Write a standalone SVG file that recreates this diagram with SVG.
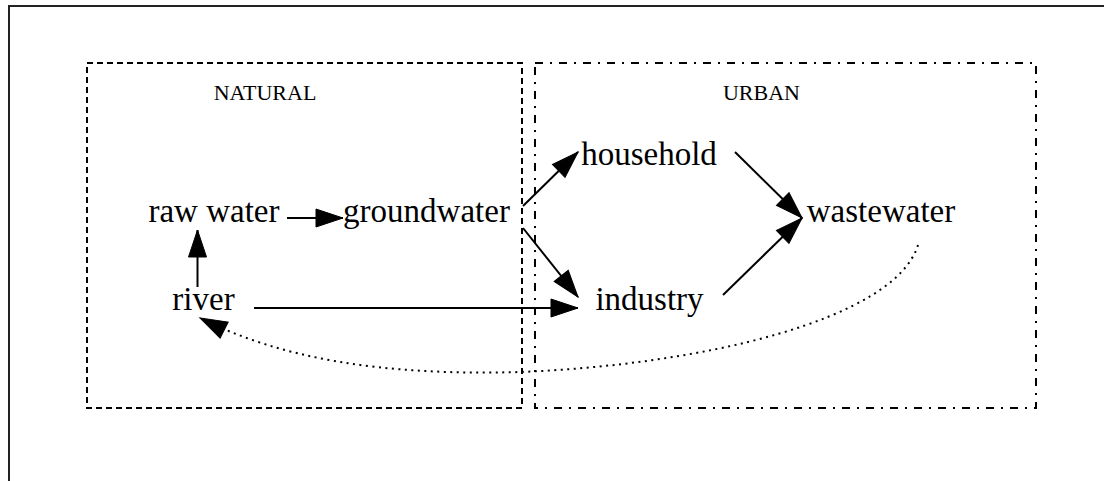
<svg xmlns="http://www.w3.org/2000/svg" width="1104" height="481" viewBox="0 0 1104 481">
<style>
.node{font-family:"Liberation Serif","Times New Roman",serif;font-size:33px;fill:#000;text-anchor:middle}
.lbl{font-family:"Liberation Serif","Times New Roman",serif;font-size:22px;fill:#000;text-anchor:middle}
.edge{fill:none;stroke:#000;stroke-width:2}
.dot{fill:none;stroke:#000;stroke-width:2;stroke-dasharray:2,4.5}
.cl{fill:none;stroke:#000;stroke-width:2}
</style>
<defs>
<marker id="ah" markerUnits="userSpaceOnUse" markerWidth="30" markerHeight="22" refX="28" refY="10" orient="auto" overflow="visible">
<path d="M1,1 L28,10 L1,19 z" fill="#000" stroke="#000" stroke-width="1"/>
</marker>
</defs>
<rect width="1104" height="481" fill="#fff"/>
<path d="M9,481 L9,6 L1104,6" fill="none" stroke="#222" stroke-width="2"/>
<g id="cluster_natural">
<rect class="cl" x="87" y="63" width="435" height="345" stroke-dasharray="6,4"/>
<text class="lbl" x="265" y="100">NATURAL</text>
</g>
<g id="cluster_urban">
<rect class="cl" x="535" y="63" width="501" height="345" stroke-dasharray="8,7,2,7"/>
<text class="lbl" x="761.5" y="100">URBAN</text>
</g>
<g id="connectors">
<path class="edge" d="M197.5,287 L197.5,230" marker-end="url(#ah)"/>
<path class="edge" d="M287,218 L343,218" marker-end="url(#ah)"/>
<path class="edge" d="M523,206 L578,152" marker-end="url(#ah)"/>
<path class="edge" d="M523,228 L578,297" marker-end="url(#ah)"/>
<path class="edge" d="M254,308 L578,308" marker-end="url(#ah)"/>
<path class="edge" d="M735,152 L802,218" marker-end="url(#ah)"/>
<path class="edge" d="M723,295 L802,218" marker-end="url(#ah)"/>
<path class="dot" d="M918,245 C895,320 700,365 520,372 C380,376 280,358 200,318" marker-end="url(#ah)"/>
</g>
<g id="raw_water"><text class="node" x="214" y="222">raw water</text></g>
<g id="groundwater"><text class="node" x="426.5" y="222">groundwater</text></g>
<g id="river"><text class="node" x="203.5" y="310">river</text></g>
<g id="household"><text class="node" x="649" y="165">household</text></g>
<g id="industry"><text class="node" x="649.5" y="310">industry</text></g>
<g id="wastewater"><text class="node" x="881" y="222">wastewater</text></g>
</svg>
